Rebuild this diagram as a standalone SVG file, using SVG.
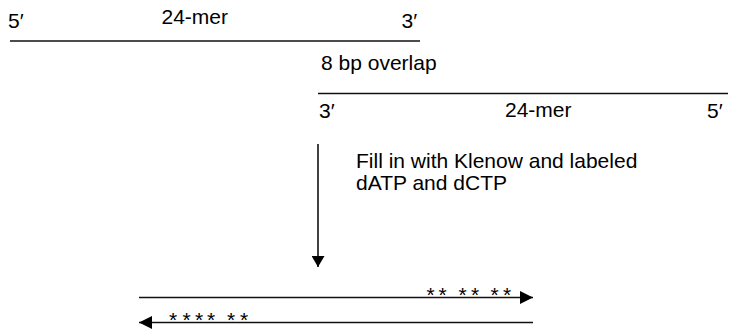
<svg xmlns="http://www.w3.org/2000/svg" width="735" height="332" viewBox="0 0 735 332">
<defs>
<style>
text{font-family:"Liberation Sans",Arial,sans-serif;font-size:21px;fill:#000}
.star{font-size:17px;text-anchor:middle}
.ln{stroke:#111;stroke-width:1.6;fill:none}
</style>
<marker id="ah" viewBox="0 0 10 10" refX="10" refY="5" markerWidth="13" markerHeight="13" markerUnits="userSpaceOnUse" orient="auto" preserveAspectRatio="none">
<path d="M0,0 L10,5 L0,10 z" fill="#000"/>
</marker>
<marker id="ahv" viewBox="0 0 10 10" refX="10" refY="5" markerWidth="11" markerHeight="13" markerUnits="userSpaceOnUse" orient="auto" preserveAspectRatio="none">
<path d="M0,0 L10,5 L0,10 z" fill="#000"/>
</marker>
</defs>
<rect width="735" height="332" fill="#fff"/>
<g id="oligo-top">
<line class="ln" x1="10" y1="41" x2="420" y2="41"/>
<text x="8" y="28">5′</text>
<text x="161.5" y="24">24-mer</text>
<text x="401.5" y="28">3′</text>
</g>
<g id="overlap-label">
<text x="321" y="70">8 bp overlap</text>
</g>
<g id="oligo-bottom">
<line class="ln" x1="318" y1="93.5" x2="728" y2="93.5"/>
<text x="319" y="118">3′</text>
<text x="505" y="116.5">24-mer</text>
<text x="707" y="118">5′</text>
</g>
<g id="step-label">
<text x="356" y="168">Fill in with Klenow and labeled</text>
<text x="356" y="190">dATP and dCTP</text>
</g>
<g id="product">
<g class="star">
<text x="430.5" y="302">*</text><text x="442.5" y="302">*</text>
<text x="462.5" y="302">*</text><text x="475" y="302">*</text>
<text x="494.5" y="302">*</text><text x="507" y="302">*</text>
<text x="173" y="327">*</text><text x="186.5" y="327">*</text>
<text x="199" y="327">*</text><text x="211" y="327">*</text>
<text x="231" y="327">*</text><text x="244" y="327">*</text>
</g>
</g>
<g id="connectors">
<line class="ln" x1="318" y1="144" x2="318" y2="267" marker-end="url(#ahv)"/>
<line class="ln" x1="139" y1="297.5" x2="533" y2="297.5" marker-end="url(#ah)"/>
<line class="ln" x1="533" y1="322.5" x2="139" y2="322.5" marker-end="url(#ah)"/>
</g>
</svg>
